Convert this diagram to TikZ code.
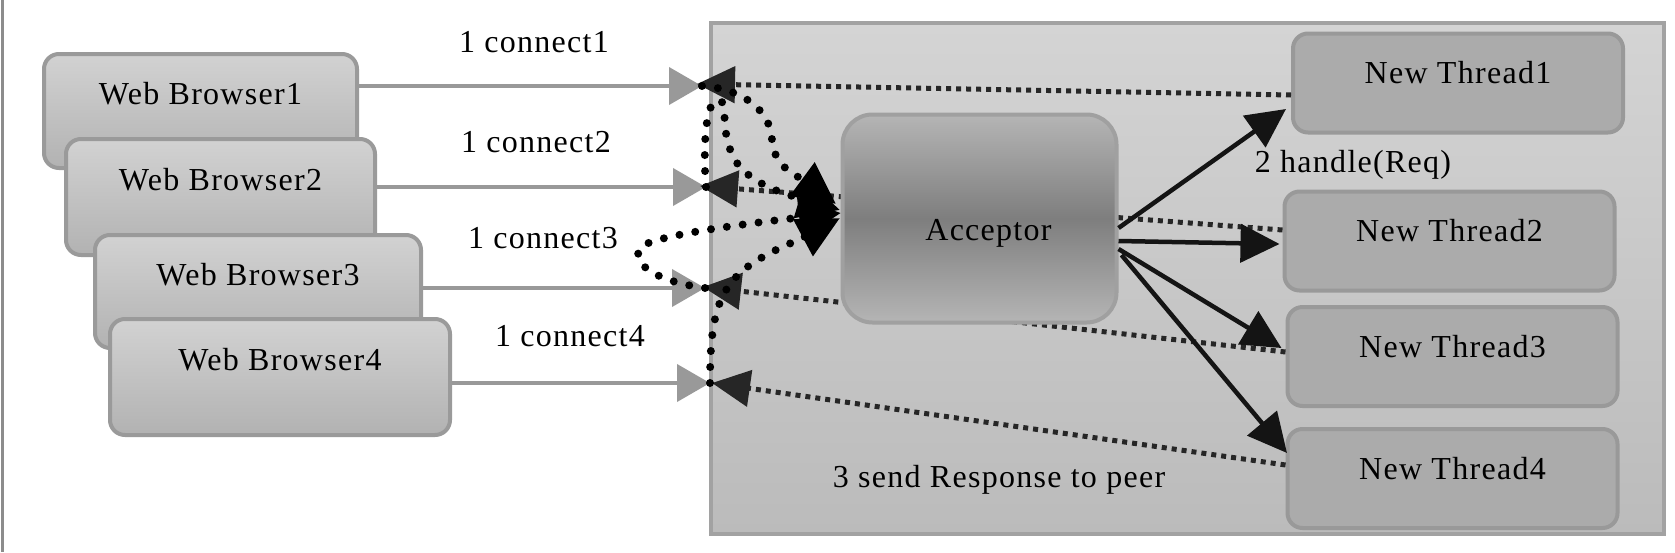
\documentclass[tikz,border=0pt]{standalone}
\usepackage{fontspec}
\setmainfont{Liberation Serif}[LetterSpace=4]
\usetikzlibrary{arrows.meta}
\definecolor{frameline}{HTML}{8C8C8C}
\definecolor{contTop}{HTML}{D4D4D4}
\definecolor{contBot}{HTML}{BBBBBB}
\definecolor{contLine}{HTML}{A2A2A2}
\definecolor{wbTop}{HTML}{D2D2D2}
\definecolor{wbBot}{HTML}{B2B2B2}
\definecolor{wbLine}{HTML}{9A9A9A}
\definecolor{thFill}{HTML}{ABABAB}
\definecolor{thLine}{HTML}{999999}
\definecolor{accEdge}{HTML}{B5B5B5}
\definecolor{accMid}{HTML}{7E7E7E}
\definecolor{accLine}{HTML}{A0A0A0}
\definecolor{conGray}{HTML}{999999}
\definecolor{retDark}{HTML}{262626}
\definecolor{solidDark}{HTML}{141414}
\begin{document}
\begin{tikzpicture}[x=1pt,y=-1pt,
  every node/.style={font=\fontsize{32}{38}\selectfont, text=black},
  wbbox/.style={draw=wbLine, line width=4pt, rounded corners=15pt, top color=wbTop, bottom color=wbBot, inner sep=0pt, text height=22pt, text depth=35pt},
  thbox/.style={draw=thLine, line width=4pt, rounded corners=15pt, fill=thFill, minimum width=330pt, minimum height=99pt, inner sep=0pt, text height=22pt, text depth=21pt},
  accbox/.style={draw=accLine, line width=4pt, rounded corners=30pt, top color=accEdge, bottom color=accEdge, middle color=accMid, minimum width=274pt, minimum height=208pt, inner sep=0pt, text height=44pt, text depth=0pt},
  contbox/.style={draw=contLine, line width=4pt, top color=contTop, bottom color=contBot, inner sep=0pt},
  lbl/.style={anchor=base, inner sep=0pt},
  conarrow/.style={draw=conGray, line width=4pt, -{Triangle[length=33pt,width=37pt]}},
  retarrow/.style={draw=retDark, line width=5pt, dash pattern=on 5pt off 5pt, -{Triangle[length=38pt,width=36pt]}},
  handarrow/.style={draw=solidDark, line width=4.5pt, -{Triangle[length=39pt,width=38pt]}},
  acceptdots/.style={draw=black, line width=8pt, line cap=round, dash pattern=on 0pt off 16pt, -{Triangle[length=42pt,width=40pt]}},
]
\fill[white] (0,0) rectangle (1675,552);
\useasboundingbox (0,0) rectangle (1675,552);
\draw[frameline, line width=3pt] (2,0) -- (2,552);

% server frame
\node[contbox, minimum width=953pt, minimum height=511pt] (server) at (1187.5,278.5) {};

% threads
\node[thbox] (t1) at (1458,83) {New Thread1};
\node[thbox] (t2) at (1449.5,241) {New Thread2};
\node[thbox] (t3) at (1452.5,356.5) {New Thread3};
\node[thbox] (t4) at (1452.5,478.5) {New Thread4};

% browsers
\node[wbbox, minimum width=313pt, minimum height=114pt] (wb1) at (200.5,111) {Web Browser1};
\node[wbbox, minimum width=309pt, minimum height=116pt] (wb2) at (220.5,197) {Web Browser2};
\node[wbbox, minimum width=326pt, minimum height=113pt] (wb3) at (258,291.5) {Web Browser3};
\node[wbbox, minimum width=340pt, minimum height=116pt] (wb4) at (280,377) {Web Browser4};

% connection points
\coordinate (P1) at (702,86);
\coordinate (P2) at (706,187);
\coordinate (P3) at (705,288);
\coordinate (P4) at (710,383);
\coordinate (R1) at (697,84);
\coordinate (R2) at (700,186);
\coordinate (R3) at (703,287);
\coordinate (R4) at (712,383);

% connect arrows
\draw[conarrow] (wb1.east |- P1) -- (P1);
\draw[conarrow] (wb2.east |- P2) -- (P2);
\draw[conarrow] (wb3.east |- P3) -- (P3);
\draw[conarrow] (wb4.east |- P4) -- (P4);

% responses
\draw[retarrow] ([yshift=-12pt]t1.west) -- (R1);
\draw[retarrow] ([yshift=11pt]t2.west) -- (R2);
\draw[retarrow] ([yshift=4.5pt]t3.west) -- (R3);
\draw[retarrow] ([yshift=13.5pt]t4.west) -- (R4);

% acceptor
\node[accbox] (acc) at (979.5,218.5) {\hspace*{18pt}Acceptor};

% handle arrows
\draw[handarrow] ([yshift=-9.5pt]acc.east) -- ([xshift=-5pt,yshift=-26pt]t1.west);
\draw[handarrow] ([yshift=-22.5pt]acc.east) -- ([xshift=-3pt,yshift=-3pt]t2.west);
\draw[handarrow] ([yshift=-30.5pt]acc.east) -- ([xshift=-4pt,yshift=8.5pt]t3.west);
\draw[handarrow] ([xshift=3pt,yshift=-36.5pt]acc.east) -- ([xshift=1.5pt,yshift=25.5pt]t4.west);

% accept curves
\coordinate (A1) at (836,204);
\coordinate (A2) at (840,210);
\coordinate (A3) at (841,213);
\coordinate (A4) at (840,218);
\draw[acceptdots] (P1) .. controls (735,88) and (770,105) .. (772,140) .. controls (774,168) and (798,176) .. (A1);
\draw[acceptdots] (P2) .. controls (703,150) and (705,100) .. (718,100) .. controls (730,100) and (718,130) .. (735,160) .. controls (752,188) and (800,198) .. (A2);
\draw[acceptdots] (P3) .. controls (660,282) and (630,265) .. (640,248) .. controls (650,235) and (760,222) .. (A3);
\draw[acceptdots] (P4) .. controls (710,330) and (715,300) .. (735,278) .. controls (755,256) and (795,242) .. (A4);

% labels
\node[lbl] (c1) at (534,52) {1 connect1};
\node[lbl] (c2) at (536,152) {1 connect2};
\node[lbl] (c3) at (543,248) {1 connect3};
\node[lbl] (c4) at (570,346) {1 connect4};
\node[lbl] (hreq) at (1353,172) {2 handle(Req)};
\node[lbl] (resp) at (999,487) {3 send Response to peer};
\end{tikzpicture}
\end{document}
